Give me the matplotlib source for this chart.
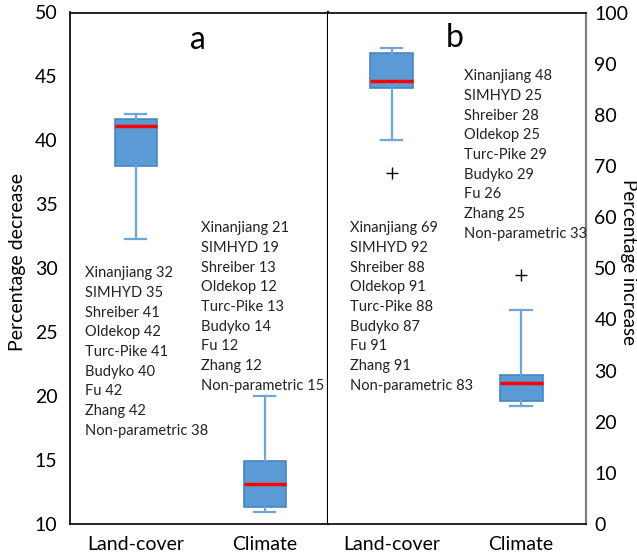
import matplotlib.pyplot as plt

plt.rcParams['font.family'] = ['Lato', 'DejaVu Sans']

groups = ['Land-cover', 'Climate']

# box statistics: panel a (decrease), panel b (increase)
a_low = [32.3, 10.9]
a_q1 = [38.0, 11.3]
a_med = [41.1, 13.1]
a_q3 = [41.65, 14.95]
a_high = [42.1, 20.0]
a_out = [[], []]

b_low = [75.1, 23.1]
b_q1 = [85.2, 24.1]
b_med = [86.6, 27.6]
b_q3 = [92.0, 29.1]
b_high = [93.1, 41.9]
b_out = [[68.6], [48.7]]

models = ['Xinanjiang', 'SIMHYD', 'Shreiber', 'Oldekop', 'Turc-Pike',
          'Budyko', 'Fu', 'Zhang', 'Non-parametric']
a_land = [32, 35, 41, 42, 41, 40, 42, 42, 38]
a_clim = [21, 19, 13, 12, 13, 14, 12, 12, 15]
b_land = [69, 92, 88, 91, 88, 87, 91, 91, 83]
b_clim = [48, 25, 28, 25, 29, 29, 26, 25, 33]

W, H = 637, 553
fig = plt.figure(figsize=(W / 100, H / 100), dpi=100)

ax_a = fig.add_axes([70 / W, 29 / H, 258 / W, 511.5 / H])
ax_b = fig.add_axes([328 / W, 29 / H, 258 / W, 511.5 / H])


def make_stats(low, q1, med, q3, high, out):
    stats = []
    for i in range(len(low)):
        stats.append(dict(whislo=low[i], q1=q1[i], med=med[i], q3=q3[i],
                          whishi=high[i], fliers=out[i]))
    return stats


box_kw = dict(
    positions=[1, 2], widths=0.33, patch_artist=True, showfliers=True,
    boxprops=dict(facecolor='#5B9BD5', edgecolor='#4A86C0', linewidth=1.2),
    whiskerprops=dict(color='#6BA6DD', linewidth=1.6),
    capprops=dict(color='#6BA6DD', linewidth=1.6),
    medianprops=dict(color='#FF0000', linewidth=2.5),
    flierprops=dict(marker='+', markeredgecolor='black', markersize=8,
                    markeredgewidth=1.0),
)

ax_a.bxp(make_stats(a_low, a_q1, a_med, a_q3, a_high, a_out), **box_kw)
ax_b.bxp(make_stats(b_low, b_q1, b_med, b_q3, b_high, b_out), **box_kw)

ax_a.set_xlim(0.49, 2.49)
ax_b.set_xlim(0.51, 2.5)
ax_a.set_ylim(10, 50)
ax_b.set_ylim(0, 100)
ax_a.set_yticks(range(10, 51, 5))
ax_b.set_yticks(range(0, 101, 10))

for ax in (ax_a, ax_b):
    ax.set_xticks([1, 2])
    ax.set_xticklabels(groups, fontsize=14)
    ax.tick_params(axis='both', length=0, labelsize=14, pad=9)

ax_b.yaxis.tick_right()
ax_b.tick_params(axis='y', pad=6)

for s in ax_a.spines.values():
    s.set_color('black')
    s.set_linewidth(1.2)
ax_a.spines['right'].set_linewidth(1.6)
ax_b.spines['left'].set_visible(False)
ax_b.spines['top'].set_color('black')
ax_b.spines['bottom'].set_color('black')
ax_b.spines['top'].set_linewidth(1.2)
ax_b.spines['bottom'].set_linewidth(1.2)
ax_b.spines['right'].set_color('#808080')
ax_b.spines['right'].set_linewidth(1.6)

# axis titles placed directly so the right one stays inside the figure
fig.text(18 / W, 1 - 262 / H, 'Percentage decrease', fontsize=14,
         rotation=90, ha='center', va='center')
fig.text(628 / W, 1 - 262 / H, 'Percentage increase', fontsize=13.5,
         rotation=270, ha='center', va='center')

fig.text(198 / W, 1 - 40 / H, 'a', fontsize=23, ha='center', va='center')
fig.text(455 / W, 1 - 38 / H, 'b', fontsize=23, ha='center', va='center')


def model_block(x, y, values):
    txt = '\n'.join(f'{m} {v}' for m, v in zip(models, values))
    fig.text(x / W, 1 - y / H, txt, fontsize=10.5, ha='left', va='center',
             linespacing=1.52, color='#222222')


model_block(85, 352, a_land)
model_block(201, 307, a_clim)
model_block(350, 307, b_land)
model_block(464, 155, b_clim)

fig.savefig('out.png', dpi=100)
